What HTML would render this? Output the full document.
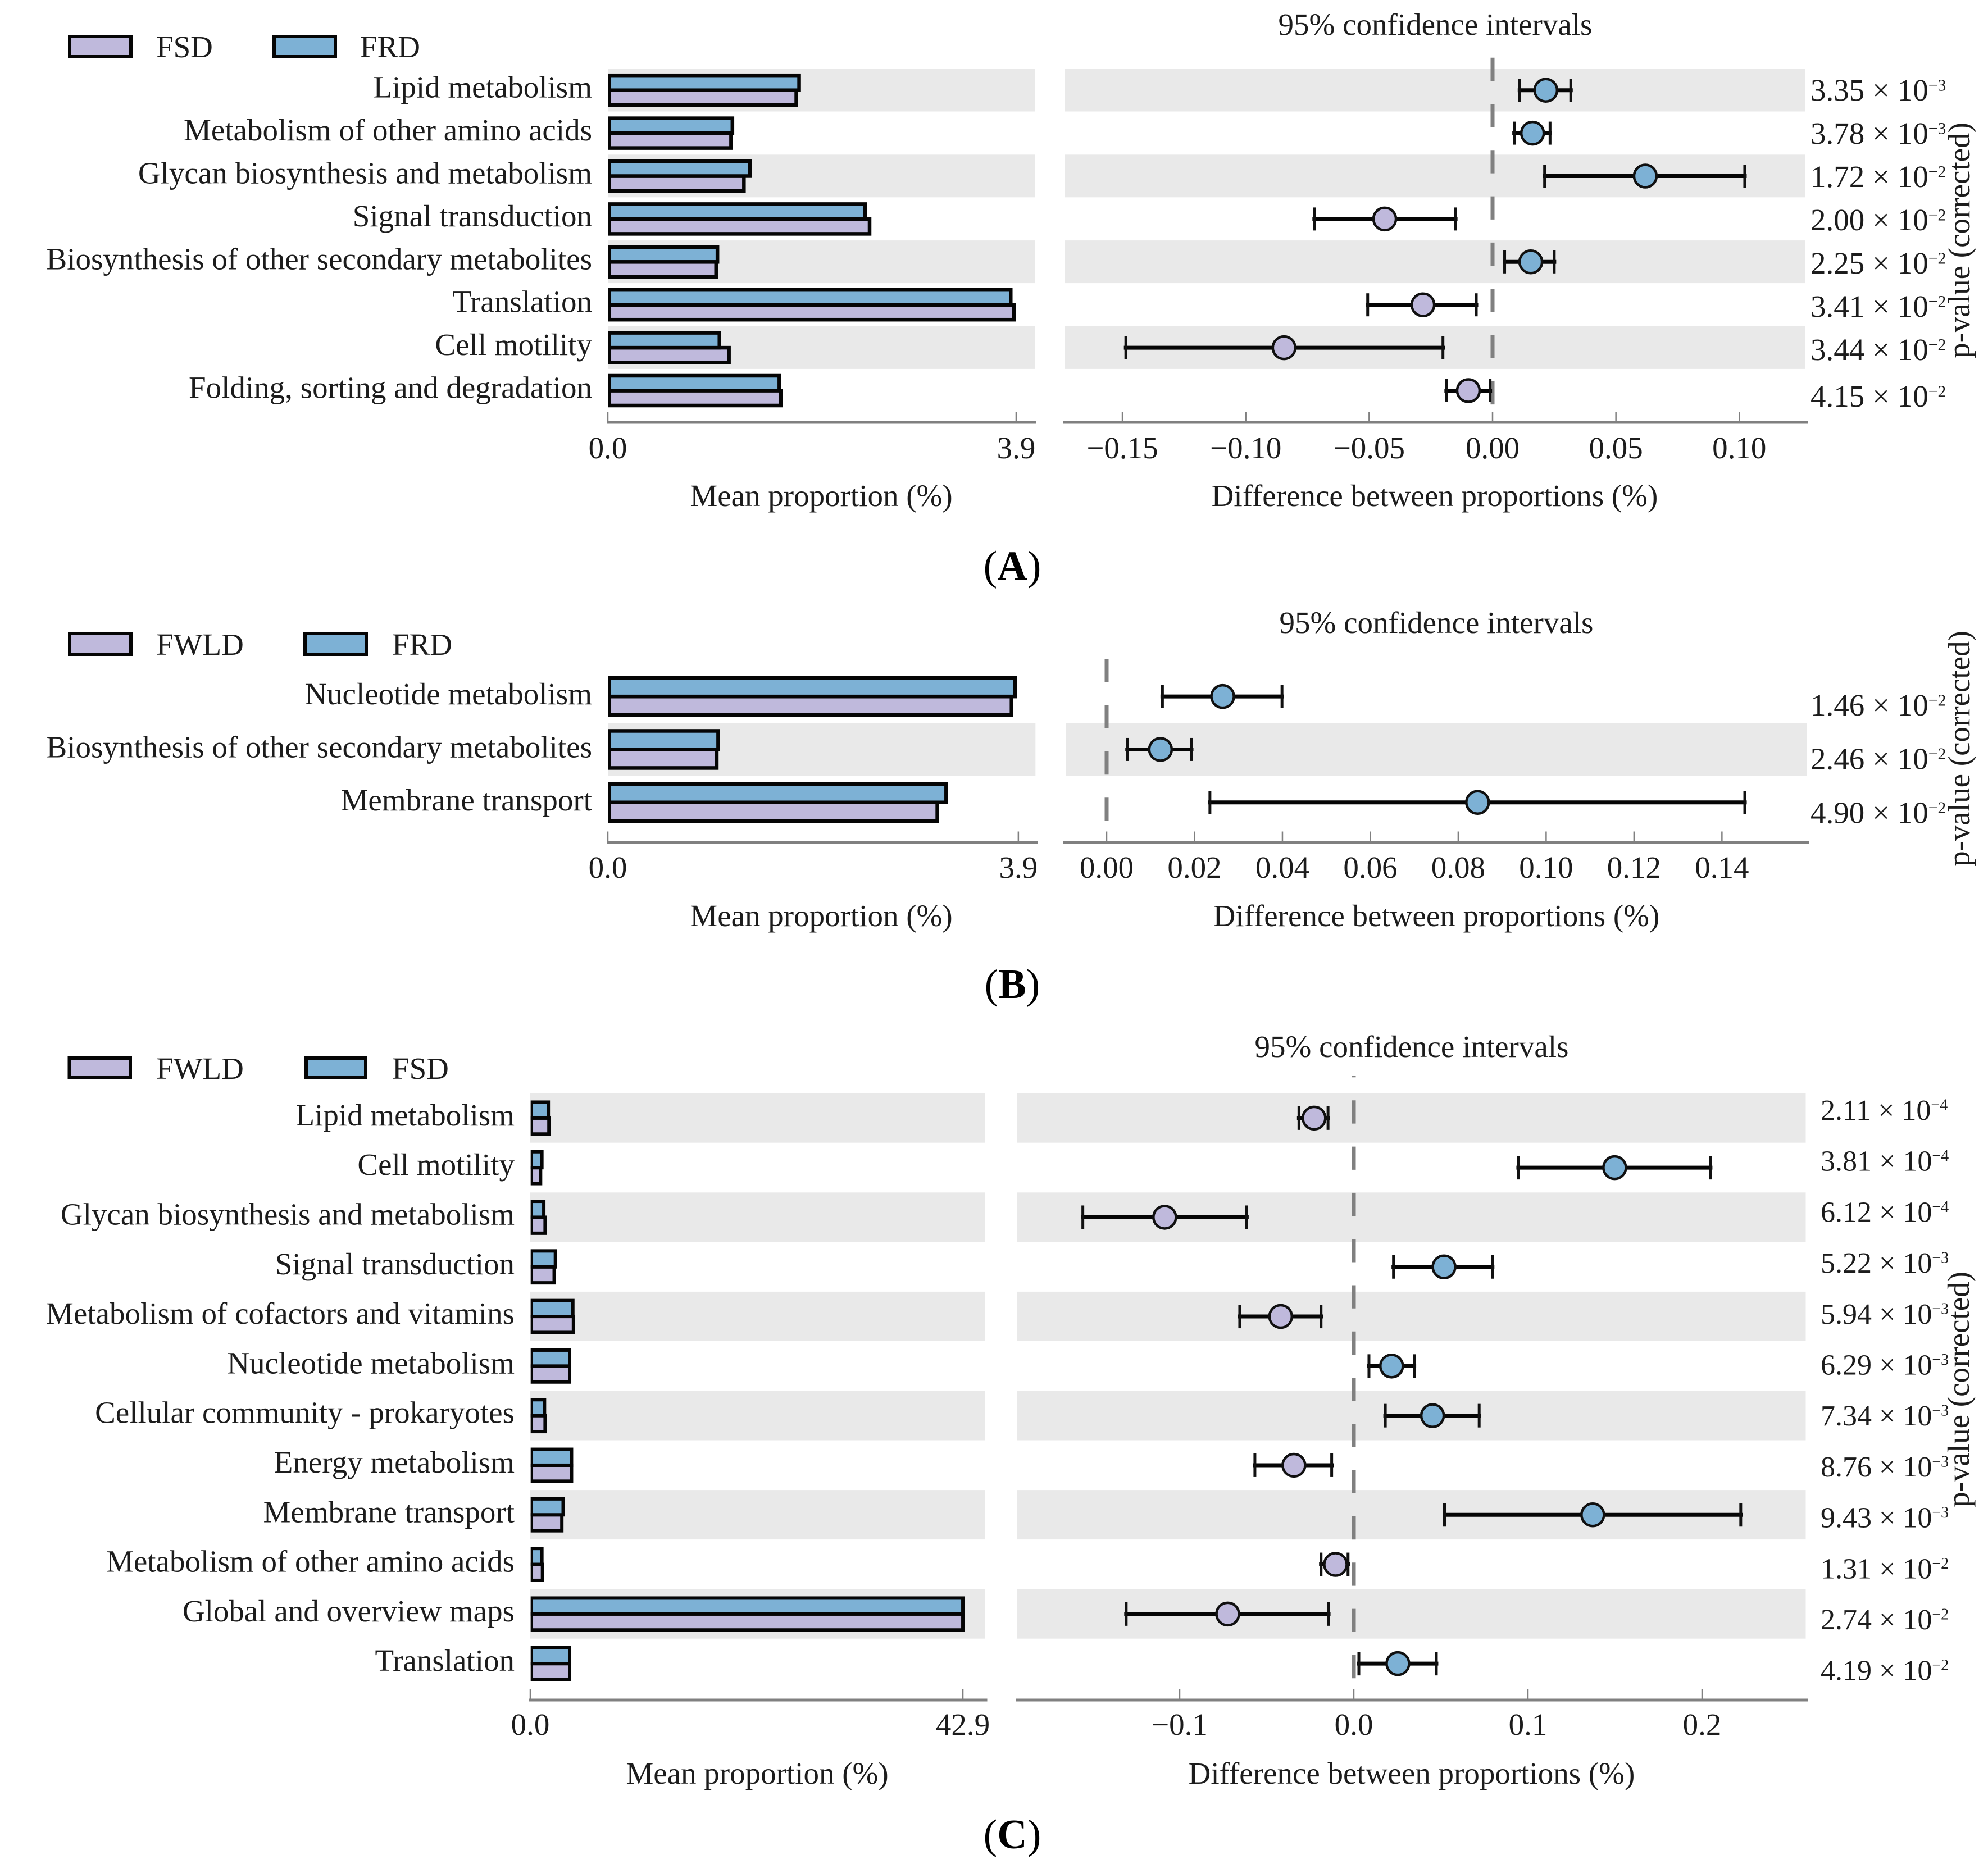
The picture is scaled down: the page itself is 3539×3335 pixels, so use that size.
<!DOCTYPE html>
<html lang="en">
<head>
<meta charset="utf-8">
<title>Differential pathway abundance: extended error bar plots</title>
<style>
html,body{margin:0;padding:0;background:#fff;}
svg{display:block;}
text{font-family:"Liberation Serif","Times New Roman",serif;fill:#1c1c1c;font-size:55px;}
.panel-letter{font-size:74px;fill:#000;}
</style>
</head>
<body>
<svg id="figure" xmlns="http://www.w3.org/2000/svg" width="3539" height="3335" viewBox="0 0 3539 3335">
<rect x="0" y="0" width="3539" height="3335" fill="#ffffff"/>

<g id="panel-a">
  <rect x="124" y="65" width="109" height="36" fill="#BFB9DC" stroke="#050505" stroke-width="6"/>
  <text x="278" y="102">FSD</text>
  <rect x="488" y="65" width="109" height="36" fill="#7DB1D5" stroke="#050505" stroke-width="6"/>
  <text x="641" y="102">FRD</text>
  <text x="2555" y="62" text-anchor="middle">95% confidence intervals</text>
  <text x="1462" y="901" text-anchor="middle">Mean proportion (%)</text>
  <text x="2554" y="901" text-anchor="middle">Difference between proportions (%)</text>
  <text transform="translate(3506,428) rotate(-90)" text-anchor="middle">p-value (corrected)</text>
  <text class="panel-letter" x="1802" y="1032" text-anchor="middle">(<tspan font-weight="bold">A</tspan>)</text>
</g>

<g id="panel-b">
  <rect x="124" y="1128" width="109" height="37" fill="#BFB9DC" stroke="#050505" stroke-width="6"/>
  <text x="278" y="1166">FWLD</text>
  <rect x="543" y="1128" width="109" height="37" fill="#7DB1D5" stroke="#050505" stroke-width="6"/>
  <text x="698" y="1166">FRD</text>
  <text x="2557" y="1127" text-anchor="middle">95% confidence intervals</text>
  <text x="1462" y="1649" text-anchor="middle">Mean proportion (%)</text>
  <text x="2557" y="1649" text-anchor="middle">Difference between proportions (%)</text>
  <text transform="translate(3506,1333) rotate(-90)" text-anchor="middle">p-value (corrected)</text>
  <text class="panel-letter" x="1802" y="1777" text-anchor="middle">(<tspan font-weight="bold">B</tspan>)</text>
</g>

<g id="panel-c">
  <rect x="123.5" y="1884" width="108.5" height="35" fill="#BFB9DC" stroke="#050505" stroke-width="6"/>
  <text x="278" y="1921">FWLD</text>
  <rect x="545" y="1884" width="106" height="35" fill="#7DB1D5" stroke="#050505" stroke-width="6"/>
  <text x="698" y="1921">FSD</text>
  <text x="2513" y="1882" text-anchor="middle">95% confidence intervals</text>
  <text x="1348" y="3176" text-anchor="middle">Mean proportion (%)</text>
  <text x="2513" y="3176" text-anchor="middle">Difference between proportions (%)</text>
  <text transform="translate(3505,2474) rotate(-90)" text-anchor="middle">p-value (corrected)</text>
  <text class="panel-letter" x="1802" y="3291" text-anchor="middle">(<tspan font-weight="bold">C</tspan>)</text>
</g>
</svg>

<script>
// ---- Panel A data ----
const categoriesA = ["Lipid metabolism","Metabolism of other amino acids","Glycan biosynthesis and metabolism","Signal transduction","Biosynthesis of other secondary metabolites","Translation","Cell motility","Folding, sorting and degradation"];
const meanBlueA = [1.827,1.19,1.358,2.457,1.047,3.848,1.066,1.638];
const meanLilacA = [1.80,1.177,1.30,2.50,1.034,3.88,1.157,1.651];
const diffA = [0.0216,0.0162,0.0619,-0.0437,0.0155,-0.0282,-0.0845,-0.0098];
const ciLowA = [0.011,0.0088,0.0211,-0.0722,0.0049,-0.0506,-0.1486,-0.0187];
const ciHighA = [0.0317,0.0233,0.1022,-0.015,0.025,-0.0066,-0.0201,-0.001];
const pMantissaA = ["3.35","3.78","1.72","2.00","2.25","3.41","3.44","4.15"];
const pExponentA = ["3","3","2","2","2","2","2","2"];
const meanTicksA = [0,3.9];
const diffTicksA = [-0.15,-0.10,-0.05,0,0.05,0.10];

// ---- Panel B data ----
const categoriesB = ["Nucleotide metabolism","Biosynthesis of other secondary metabolites","Membrane transport"];
const meanBlueB = [3.868,1.048,3.214];
const meanLilacB = [3.835,1.035,3.13];
const diffB = [0.0264,0.01225,0.0844];
const ciLowB = [0.0127,0.0047,0.0235];
const ciHighB = [0.0399,0.0193,0.1452];
const pMantissaB = ["1.46","2.46","4.90"];
const pExponentB = ["2","2","2"];
const meanTicksB = [0,3.9];
const diffTicksB = [0,0.02,0.04,0.06,0.08,0.10,0.12,0.14];

// ---- Panel C data ----
const categoriesC = ["Lipid metabolism","Cell motility","Glycan biosynthesis and metabolism","Signal transduction","Metabolism of cofactors and vitamins","Nucleotide metabolism","Cellular community - prokaryotes","Energy metabolism","Membrane transport","Metabolism of other amino acids","Global and overview maps","Translation"];
const meanBlueC = [1.79,1.15,1.34,2.49,4.22,3.9,1.41,4.09,3.26,1.15,42.9,3.9];
const meanLilacC = [1.85,1.02,1.47,2.37,4.28,3.9,1.47,4.09,3.13,1.21,42.9,3.9];
const diffC = [-0.0228,0.1498,-0.1086,0.0518,-0.042,0.0217,0.0452,-0.0344,0.1372,-0.0105,-0.0724,0.0253];
const ciLowC = [-0.0315,0.0945,-0.1556,0.0228,-0.0655,0.0087,0.0181,-0.0568,0.0521,-0.0188,-0.1307,0.0029];
const ciHighC = [-0.0148,0.2048,-0.0615,0.0796,-0.0188,0.0347,0.072,-0.0127,0.2222,-0.0033,-0.0145,0.0474];
const pMantissaC = ["2.11","3.81","6.12","5.22","5.94","6.29","7.34","8.76","9.43","1.31","2.74","4.19"];
const pExponentC = ["4","4","4","3","3","3","3","3","3","2","2","2"];
const meanTicksC = [0,42.9];
const diffTicksC = [-0.1,0,0.1,0.2];

const SVG_NS = "http://www.w3.org/2000/svg";
const BLUE = "#7DB1D5";
const LILAC = "#BFB9DC";
const BAND = "#E9E9E9";
const AXIS = "#808080";
const INK = "#050505";

function make(parent, tag, attrs, text) {
  const el = document.createElementNS(SVG_NS, tag);
  for (const k in attrs) el.setAttribute(k, attrs[k]);
  if (text !== undefined) el.textContent = text;
  parent.appendChild(el);
  return el;
}

function drawPanel(g, d, L) {
  const rowY = i => L.rowTop + L.rowH * (i + 0.5);
  const xMean = v => L.meanX0 + v * L.meanK;
  const xDiff = v => L.zeroX + v * L.diffK;

  // bars' left outlines are trimmed at the axis origin
  const clip = make(g, "clipPath", {id: L.clipId});
  
  
  make(clip, "rect", {x: L.meanX0 + 0.7, y: L.rowTop, width: L.meanBandR - L.meanX0 + 40, height: L.rowH * d.categories.length});

  // alternating row bands
  d.categories.forEach((c, i) => {
    if (i % 2 !== L.bandParity) return;
    const left = make(g, "rect", {x: L.meanBandL, y: L.rowTop + L.rowH * i, width: L.meanBandR - L.meanBandL, height: L.bandH, fill: BAND});
    
    
    const right = make(g, "rect", {x: L.diffBandL, y: L.rowTop + L.rowH * i, width: L.diffBandR - L.diffBandL, height: L.bandH, fill: BAND});
    
    
  });

  // zero reference line
  const zero = make(g, "line", {x1: L.zeroX, x2: L.zeroX, y1: L.dashY1, y2: L.dashY2, stroke: "#808080", "stroke-width": 7, "stroke-dasharray": "41.3 41", "stroke-dashoffset": L.dashOffset});
  
  

  d.categories.forEach((c, i) => {
    const y = rowY(i);
    const label = make(g, "text", {x: L.labelX, y: y + L.labelDy, "text-anchor": "end"}, c);
    
    

    const lilac = make(g, "rect", {x: L.meanX0 + 2, y: y, width: xMean(d.lilac[i]) - L.meanX0 - 2, height: L.barH, fill: LILAC, stroke: INK, "stroke-width": L.barStroke, "clip-path": "url(#" + L.clipId + ")"});
    
    
    const blue = make(g, "rect", {x: L.meanX0 + 2, y: y - L.barH, width: xMean(d.blue[i]) - L.meanX0 - 2, height: L.barH, fill: BLUE, stroke: INK, "stroke-width": L.barStroke, "clip-path": "url(#" + L.clipId + ")"});
    
    

    const ci = make(g, "line", {x1: xDiff(d.low[i]), x2: xDiff(d.high[i]), y1: y, y2: y, stroke: INK, "stroke-width": 7, "stroke-linecap": "square"});
    
    
    const capLow = make(g, "line", {x1: xDiff(d.low[i]), x2: xDiff(d.low[i]), y1: y - L.capH, y2: y + L.capH, stroke: "#111111", "stroke-width": 5});
    
    
    const capHigh = make(g, "line", {x1: xDiff(d.high[i]), x2: xDiff(d.high[i]), y1: y - L.capH, y2: y + L.capH, stroke: "#111111", "stroke-width": 5});
    
    
    const dot = make(g, "circle", {cx: xDiff(d.diff[i]), cy: y, r: 20, fill: d.diff[i] >= 0 ? BLUE : LILAC, stroke: "#101010", "stroke-width": 4.5});
    
    

    const isLast = i === d.categories.length - 1;
    const p = make(g, "text", {x: L.pX, y: L.pFirst + L.pStep * i + (isLast ? L.pLastShift : 0), "font-size": L.pFont, style: "font-size:" + L.pFont + "px"});
    
    
    make(p, "tspan", {}, d.pMantissa[i] + " \u00D7 10");
    make(p, "tspan", {dy: -17.5, style: "font-size:" + (L.pFont * 0.54) + "px"}, "\u2212" + d.pExponent[i]);
  });

  // mean axis
  const meanAxis = make(g, "line", {x1: L.meanAxisL, x2: L.meanAxisR, y1: L.axisY, y2: L.axisY, stroke: AXIS, "stroke-width": 5});
  
  
  d.meanTicks.forEach(v => {
    const t = make(g, "line", {x1: xMean(v), x2: xMean(v), y1: L.axisY - L.tickH, y2: L.axisY, stroke: AXIS, "stroke-width": 2.5});
    
    
    const lab = make(g, "text", {x: xMean(v), y: L.tickY, "text-anchor": "middle"}, v.toFixed(1));
    
    
  });

  // difference axis
  const diffAxis = make(g, "line", {x1: L.diffAxisL, x2: L.diffAxisR, y1: L.axisY, y2: L.axisY, stroke: AXIS, "stroke-width": 5});
  
  
  d.diffTicks.forEach(v => {
    const t = make(g, "line", {x1: xDiff(v), x2: xDiff(v), y1: L.axisY - L.tickH, y2: L.axisY, stroke: AXIS, "stroke-width": 2.5});
    
    
    const lab = make(g, "text", {x: xDiff(v), y: L.tickY, "text-anchor": "middle"}, v.toFixed(L.tickDigits).replace("-", "\u2212"));
    
    
  });
}

drawPanel(document.getElementById("panel-a"),
  {categories: categoriesA, blue: meanBlueA, lilac: meanLilacA, diff: diffA, low: ciLowA, high: ciHighA, pMantissa: pMantissaA, pExponent: pExponentA, meanTicks: meanTicksA, diffTicks: diffTicksA},
  {clipId: "bar-clip-a", rowTop: 122.5, rowH: 76.4, bandH: 76, bandParity: 0, barH: 26.5, barStroke: 6.5, capH: 20.5,
   meanBandL: 1082, meanBandR: 1842, diffBandL: 1896, diffBandR: 3214,
   meanX0: 1082, meanK: 186.4, zeroX: 2657, diffK: 4393,
   meanAxisL: 1080, meanAxisR: 1845, diffAxisL: 1893, diffAxisR: 3218,
   axisY: 752, tickH: 19, tickY: 816, tickDigits: 2,
   dashY1: 102.7, dashY2: 721, dashOffset: 0,
   labelX: 1054, labelDy: 13, pX: 3223, pFirst: 179, pStep: 77, pLastShift: 6, pFont: 55});

drawPanel(document.getElementById("panel-b"),
  {categories: categoriesB, blue: meanBlueB, lilac: meanLilacB, diff: diffB, low: ciLowB, high: ciHighB, pMantissa: pMantissaB, pExponent: pExponentB, meanTicks: meanTicksB, diffTicks: diffTicksB},
  {clipId: "bar-clip-b", rowTop: 1193, rowH: 94.3, bandH: 93.8, bandParity: 1, barH: 33, barStroke: 6.5, capH: 20.5,
   meanBandL: 1082, meanBandR: 1843.3, diffBandL: 1897.7, diffBandR: 3216,
   meanX0: 1082, meanK: 187.4, zeroX: 1970, diffK: 7824,
   meanAxisL: 1080, meanAxisR: 1848, diffAxisL: 1893, diffAxisR: 3220,
   axisY: 1499.5, tickH: 19, tickY: 1563, tickDigits: 2,
   dashY1: 1173.3, dashY2: 1462.5, dashOffset: 0,
   labelX: 1054, labelDy: 14, pX: 3223, pFirst: 1274, pStep: 95.7, pLastShift: 0, pFont: 55});

drawPanel(document.getElementById("panel-c"),
  {categories: categoriesC, blue: meanBlueC, lilac: meanLilacC, diff: diffC, low: ciLowC, high: ciHighC, pMantissa: pMantissaC, pExponent: pExponentC, meanTicks: meanTicksC, diffTicks: diffTicksC},
  {clipId: "bar-clip-c", rowTop: 1946.7, rowH: 88.3, bandH: 88, bandParity: 0, barH: 28.4, barStroke: 6, capH: 21,
   meanBandL: 944, meanBandR: 1754, diffBandL: 1811, diffBandR: 3214.5,
   meanX0: 944, meanK: 17.95, zeroX: 2410, diffK: 3100,
   meanAxisL: 941, meanAxisR: 1757.5, diffAxisL: 1808, diffAxisR: 3218,
   axisY: 3027, tickH: 20, tickY: 3089, tickDigits: 1,
   dashY1: 1915, dashY2: 2989, dashOffset: 38,
   labelX: 916, labelDy: 13, pX: 3241, pFirst: 1994, pStep: 90.7, pLastShift: 0, pFont: 52});
</script>
</body>
</html>
